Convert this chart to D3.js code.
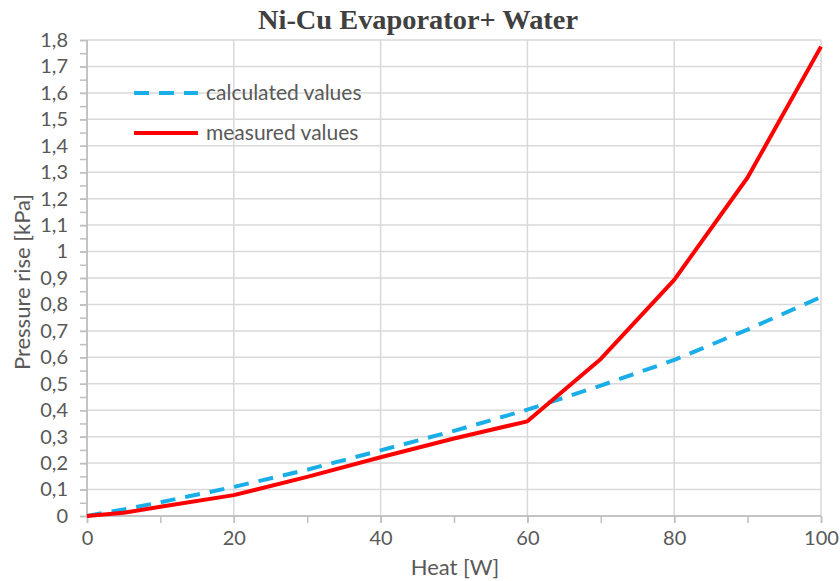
<!DOCTYPE html>
<html>
<head>
<meta charset="utf-8">
<script src="https://cdn.jsdelivr.net/npm/d3@7"></script>
<style>
  html, body { margin: 0; padding: 0; background: #fff; }
  svg { display: block; }
</style>
</head>
<body>
<svg id="chart" width="840" height="581"></svg>
<script>
// Heat input [W]
const heatMeasured = [0, 5, 10, 20, 30, 40, 50, 60, 70, 80, 90, 100];
// Measured pressure rise [kPa]
const measuredValues = [0, 0.012, 0.035, 0.079, 0.148, 0.222, 0.293, 0.358, 0.594, 0.893, 1.28, 1.775];
// Calculated pressure rise [kPa]
const heatCalculated = [0, 5, 10, 20, 30, 40, 50, 60, 70, 80, 90, 100];
const calculatedValues = [0, 0.025, 0.052, 0.11, 0.175, 0.248, 0.322, 0.402, 0.493, 0.59, 0.705, 0.828];

const xTicks = [0, 20, 40, 60, 80, 100];
const xMinorTicks = [0, 10, 20, 30, 40, 50, 60, 70, 80, 90, 100];
const yTicks = d3.range(0, 19).map(i => i / 10);
const yMinorTicks = d3.range(0, 37).map(i => i / 20);

const seriesNames = ["calculated values", "measured values"];
const titleText = "Ni-Cu Evaporator+ Water";
const xTitle = "Heat [W]";
const yTitle = "Pressure rise [kPa]";

const svg = d3.select("#chart");
const plotLeft = 87, plotRight = 821, plotTop = 40, plotBottom = 516;

const x = d3.scaleLinear().domain([0, 100]).range([plotLeft, plotRight]);
const y = d3.scaleLinear().domain([0, 1.8]).range([plotBottom, plotTop]);

const fmt = v => d3.format(".1~f")(v).replace(".", ",");
const font = "Lato, 'Noto Sans', sans-serif";

// gridlines
svg.append("g")
  .selectAll("line")
  .data(yTicks.slice(1))
  .join("line")
  .attr("x1", plotLeft).attr("x2", plotRight)
  .attr("y1", d => y(d)).attr("y2", d => y(d))
  .attr("stroke", "#d9d9d9").attr("stroke-width", 1.5);

svg.append("g")
  .selectAll("line")
  .data(xTicks.slice(1))
  .join("line")
  .attr("x1", d => x(d)).attr("x2", d => x(d))
  .attr("y1", plotTop).attr("y2", plotBottom)
  .attr("stroke", "#d9d9d9").attr("stroke-width", 1.5);

// y axis with minor ticks
const yMinorG = svg.append("g").attr("transform", `translate(${plotLeft},0)`)
  .call(d3.axisLeft(y).tickValues(yMinorTicks).tickSize(7).tickFormat(""));
const yAxisG = svg.append("g").attr("transform", `translate(${plotLeft},0)`)
  .call(d3.axisLeft(y).tickValues(yTicks).tickSize(7).tickPadding(12).tickFormat(fmt));
[yMinorG, yAxisG].forEach(g => {
  g.selectAll("path.domain").attr("stroke", "#bfbfbf").attr("stroke-width", 1.5)
    .attr("d", `M0,${plotTop}V${plotBottom}`);
  g.selectAll(".tick line").attr("stroke", "#bfbfbf").attr("stroke-width", 1.5);
});
yAxisG.selectAll(".tick text")
  .attr("font-family", font).attr("font-size", 20).attr("fill", "#595959");

// x axis
const xMinorG = svg.append("g").attr("transform", `translate(0,${plotBottom})`)
  .call(d3.axisBottom(x).tickValues(xMinorTicks).tickSize(7).tickFormat(""));
const xAxisG = svg.append("g").attr("transform", `translate(0,${plotBottom})`)
  .call(d3.axisBottom(x).tickValues(xTicks).tickSize(7).tickPadding(8).tickFormat(d3.format("d")));
[xMinorG, xAxisG].forEach(g => {
  g.selectAll("path.domain").attr("stroke", "#bfbfbf").attr("stroke-width", 1.5)
    .attr("d", `M${plotLeft},0H${plotRight}`);
  g.selectAll(".tick line").attr("stroke", "#bfbfbf").attr("stroke-width", 1.5);
});
xAxisG.selectAll(".tick text")
  .attr("font-family", font).attr("font-size", 20).attr("fill", "#595959");

// series
const line = d3.line().x(d => x(d[0])).y(d => y(d[1]));

svg.append("path")
  .datum(heatCalculated.map((h, i) => [h, calculatedValues[i]]))
  .attr("d", line)
  .attr("fill", "none")
  .attr("stroke", "#1aaee8")
  .attr("stroke-width", 4)
  .attr("stroke-dasharray", "15,10");

svg.append("path")
  .datum(heatMeasured.map((h, i) => [h, measuredValues[i]]))
  .attr("d", line)
  .attr("fill", "none")
  .attr("stroke", "#ff0000")
  .attr("stroke-width", 4)
  .attr("stroke-linejoin", "round");

// legend
const legend = svg.append("g");
const legendStyles = [
  { color: "#1aaee8", dash: "15,10" },
  { color: "#ff0000", dash: null }
];
seriesNames.forEach((name, i) => {
  const ly = 93 + i * 40;
  legend.append("line")
    .attr("x1", 134).attr("x2", 198)
    .attr("y1", ly).attr("y2", ly)
    .attr("stroke", legendStyles[i].color)
    .attr("stroke-width", 4)
    .attr("stroke-dasharray", legendStyles[i].dash);
  legend.append("text")
    .attr("x", 206).attr("y", ly)
    .attr("dy", "0.35em")
    .attr("font-family", font).attr("font-size", 21)
    .attr("fill", "#595959")
    .text(name);
});

// titles
svg.append("text")
  .attr("x", 418).attr("y", 29)
  .attr("text-anchor", "middle")
  .attr("font-family", "'Liberation Serif', 'DejaVu Serif', serif")
  .attr("font-weight", "bold")
  .attr("font-size", 28)
  .attr("textLength", 320)
  .attr("lengthAdjust", "spacingAndGlyphs")
  .attr("fill", "#404040")
  .text(titleText);

svg.append("text")
  .attr("x", 455).attr("y", 575)
  .attr("text-anchor", "middle")
  .attr("font-family", font).attr("font-size", 22)
  .attr("fill", "#595959")
  .text(xTitle);

svg.append("text")
  .attr("transform", "translate(30,282) rotate(-90)")
  .attr("text-anchor", "middle")
  .attr("font-family", font).attr("font-size", 22)
  .attr("fill", "#595959")
  .text(yTitle);
</script>
</body>
</html>
